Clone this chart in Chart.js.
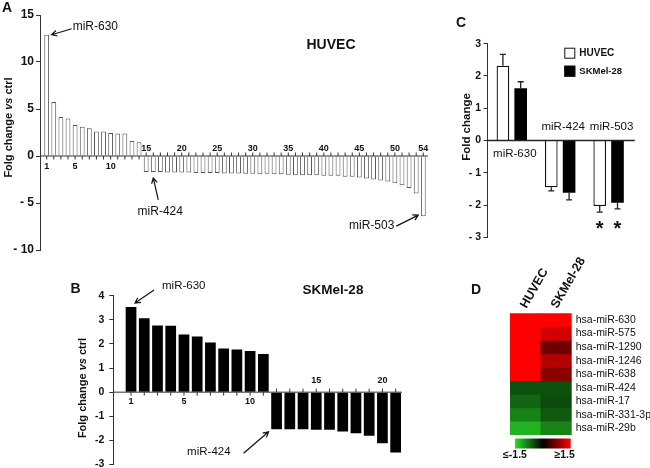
<!DOCTYPE html>
<html>
<head>
<meta charset="utf-8">
<script src="https://cdn.jsdelivr.net/npm/chart.js@4.4.1/dist/chart.umd.min.js"></script>
<style>
  html, body { margin: 0; padding: 0; background: #fff; overflow: hidden; width: 650px; height: 468px; }
  canvas { position: absolute; left: 0; top: 0; }
</style>
</head>
<body>
<canvas id="chartA" width="650" height="480"></canvas>
<canvas id="chartB" width="650" height="480"></canvas>
<canvas id="chartC" width="650" height="480"></canvas>
<canvas id="chartD" width="650" height="480"></canvas>
<script>
const FONT = '"Liberation Sans", Arial, sans-serif';

// A - HUVEC, fold change of 54 miRNAs
const huvecBars = Array.from({length: 54}, (_, i) => i + 1);
const huvecFold = [12.9, 5.75, 4.15, 4.0, 3.3, 3.1, 2.95, 2.6, 2.6, 2.45, 2.4, 2.4, 1.6, 1.45,
  -1.7, -1.7, -1.7, -1.75, -1.75, -1.75, -1.75, -1.8, -1.8, -1.8, -1.8, -1.85, -1.85, -1.85, -1.9, -1.9,
  -1.95, -1.9, -1.95, -1.95, -2.0, -2.05, -2.05, -2.05, -2.05, -2.1, -2.1, -2.1, -2.2, -2.2,
  -2.3, -2.4, -2.5, -2.6, -2.7, -2.9, -3.1, -3.4, -4.0, -6.4];
const huvecTicks = [1, 5, 10, 15, 20, 25, 30, 35, 40, 45, 50, 54];

// B - SKMel-28, 21 miRNAs
const skmelBars = Array.from({length: 21}, (_, i) => i + 1);
const skmelFold = [3.53, 3.07, 2.76, 2.75, 2.39, 2.31, 2.06, 1.81, 1.77, 1.71, 1.58,
  -1.54, -1.54, -1.54, -1.56, -1.56, -1.63, -1.7, -1.81, -2.12, -2.5];
const skmelTicks = [1, 5, 10, 15, 20];

// C - validation
const cGroups = ['miR-630', 'miR-424', 'miR-503'];
const cHuvec = [2.32, -1.45, -2.03];
const cHuvecErr = [0.35, 0.11, 0.19];
const cSkmel = [1.62, -1.62, -1.93];
const cSkmelErr = [0.2, 0.22, 0.19];
const cSignif = [false, false, true];

// D - heatmap
const heatCols = ['HUVEC', 'SKMel-28'];
const heatGenes = ['hsa-miR-630', 'hsa-miR-575', 'hsa-miR-1290', 'hsa-miR-1246', 'hsa-miR-638',
  'hsa-miR-424', 'hsa-miR-17', 'hsa-miR-331-3p', 'hsa-miR-29b'];
const heatHuvec = [1.5, 1.5, 1.5, 1.5, 1.5, -0.53, -0.67, -0.87, -1.2];
const heatSkmel = [1.5, 1.24, 0.65, 1.06, 0.82, -0.53, -0.5, -0.6, -0.87];

Chart.defaults.font.family = FONT;
Chart.defaults.color = '#111';
Chart.defaults.animation = false;
Chart.defaults.responsive = false;
Chart.defaults.events = [];
Chart.defaults.plugins.legend.display = false;
Chart.defaults.plugins.tooltip.enabled = false;

function font(size, weight, style) {
  return (style || '') + ' ' + (weight || 'normal') + ' ' + size + 'px ' + FONT;
}
function text(ctx, s, x, y, f, align, base) {
  ctx.font = f;
  ctx.textAlign = align || 'center';
  ctx.textBaseline = base || 'middle';
  ctx.fillText(s, x, y);
}
function arrow(ctx, x1, y1, x2, y2) {
  const a = Math.atan2(y2 - y1, x2 - x1), h = 6;
  ctx.beginPath();
  ctx.moveTo(x1, y1); ctx.lineTo(x2, y2);
  ctx.moveTo(x2 - h * Math.cos(a - 0.5), y2 - h * Math.sin(a - 0.5));
  ctx.lineTo(x2, y2);
  ctx.lineTo(x2 - h * Math.cos(a + 0.5), y2 - h * Math.sin(a + 0.5));
  ctx.stroke();
}
function yTitle(ctx, cx, cy, parts) {
  ctx.save();
  ctx.translate(cx, cy);
  ctx.rotate(-Math.PI / 2);
  let w = 0;
  parts.forEach(p => { ctx.font = p[1]; w += ctx.measureText(p[0]).width; });
  let x = -w / 2;
  ctx.textAlign = 'left'; ctx.textBaseline = 'middle';
  parts.forEach(p => { ctx.font = p[1]; ctx.fillText(p[0], x, 0); x += ctx.measureText(p[0]).width; });
  ctx.restore();
}
const folgTitle = size => [['Folg change ', font(size, 'bold')], ['vs', font(size, 'bold', 'italic')], [' ctrl', font(size, 'bold')]];
const dashMinus = v => v < 0 ? '- ' + (-v) : String(v);

// zero line with ticks and the index labels (below for up bars, above for down bars)
const zeroAxis = {
  id: 'zeroAxis',
  afterDatasetsDraw(chart, args, opts) {
    const {ctx, chartArea, scales: {x, y}} = chart;
    const y0 = y.getPixelForValue(0);
    const vals = chart.data.datasets[0].data;
    ctx.save();
    ctx.strokeStyle = '#333';
    ctx.lineWidth = 1;
    ctx.beginPath();
    ctx.moveTo(chartArea.left, y0);
    ctx.lineTo(chartArea.right, y0);
    chart.data.labels.forEach((n, i) => {
      const px = x.getPixelForValue(n);
      ctx.moveTo(px, y0);
      ctx.lineTo(px, y0 + (vals[i] >= 0 ? opts.tick : -opts.tick));
    });
    ctx.stroke();
    ctx.fillStyle = '#111';
    opts.labels.forEach(n => {
      const dy = vals[n - 1] >= 0 ? opts.below : -opts.above;
      text(ctx, String(n), x.getPixelForValue(n), y0 + dy, opts.font);
    });
    ctx.restore();
  }
};

const notesA = {
  id: 'notesA',
  afterDraw(chart) {
    const {ctx, scales: {x, y}} = chart;
    ctx.save();
    ctx.fillStyle = '#111'; ctx.strokeStyle = '#111'; ctx.lineWidth = 1.2;
    text(ctx, 'A', 7, 8, font(14, 'bold'));
    text(ctx, 'HUVEC', 331, 45, font(14, 'bold'));
    yTitle(ctx, 9, 127.5, folgTitle(11));
    let tx = x.getPixelForValue(1) + 5, ty = y.getPixelForValue(huvecFold[0]);
    arrow(ctx, tx + 20, ty - 6, tx, ty);
    text(ctx, 'miR-630', tx + 21, ty - 8, font(12), 'left');
    tx = x.getPixelForValue(16); ty = y.getPixelForValue(huvecFold[15]) + 6;
    arrow(ctx, tx + 5, ty + 22, tx, ty);
    text(ctx, 'miR-424', tx + 7, ty + 34, font(12));
    tx = x.getPixelForValue(54) - 5; ty = y.getPixelForValue(huvecFold[53]) - 1;
    arrow(ctx, tx - 22, ty + 11, tx, ty);
    text(ctx, 'miR-503', tx - 24, ty + 11, font(12), 'right');
    ctx.restore();
  }
};

const notesB = {
  id: 'notesB',
  afterDraw(chart) {
    const {ctx, scales: {x, y}} = chart;
    ctx.save();
    ctx.fillStyle = '#111'; ctx.strokeStyle = '#111'; ctx.lineWidth = 1.2;
    text(ctx, 'B', 75.5, 289, font(14, 'bold'));
    text(ctx, 'SKMel-28', 333, 290, font(13.5, 'bold'));
    yTitle(ctx, 82.5, 388, folgTitle(11));
    let tx = x.getPixelForValue(1) + 4, ty = y.getPixelForValue(skmelFold[0]) - 4;
    arrow(ctx, tx + 19, ty - 13, tx, ty);
    text(ctx, 'miR-630', tx + 27, ty - 17, font(11.5), 'left');
    tx = x.getPixelForValue(12) - 8; ty = y.getPixelForValue(skmelFold[11]) + 2.5;
    arrow(ctx, tx - 25, ty + 21.5, tx, ty);
    text(ctx, 'miR-424', tx - 38, ty + 20, font(11.5), 'right');
    ctx.restore();
  }
};

const notesC = {
  id: 'notesC',
  afterDatasetsDraw(chart) {
    const {ctx, chartArea, scales: {x, y}} = chart;
    const y0 = y.getPixelForValue(0);
    const errs = [cHuvecErr, cSkmelErr];
    ctx.save();
    ctx.strokeStyle = '#222'; ctx.fillStyle = '#111'; ctx.lineWidth = 1.3;
    // x axis
    ctx.beginPath();
    ctx.moveTo(chartArea.left, y0); ctx.lineTo(chartArea.right + 2, y0);
    ctx.stroke();
    // error bars
    const lows = [];
    chart.data.datasets.forEach((ds, d) => {
      chart.getDatasetMeta(d).data.forEach((bar, i) => {
        const v = ds.data[i], s = v >= 0 ? 1 : -1;
        const ey = y.getPixelForValue(v + s * errs[d][i]);
        ctx.beginPath();
        ctx.moveTo(bar.x, bar.y); ctx.lineTo(bar.x, ey);
        ctx.moveTo(bar.x - 3, ey); ctx.lineTo(bar.x + 3, ey);
        ctx.stroke();
        lows[i] = Math.max(lows[i] || 0, ey);
      });
    });
    // stars
    chart.getDatasetMeta(0).data.forEach((bar, i) => {
      if (!cSignif[i]) return;
      chart.data.datasets.forEach((ds, d) => {
        const b = chart.getDatasetMeta(d).data[i];
        ctx.font = font(20, 'bold');
        const m = ctx.measureText('*');
        ctx.textAlign = 'center'; ctx.textBaseline = 'alphabetic';
        ctx.fillText('*', b.x, lows[i] + 13 + (m.actualBoundingBoxAscent - m.actualBoundingBoxDescent) / 2);
      });
    });
    // group names
    cGroups.forEach((g, i) => {
      const gx = x.getPixelForValue(i) + 3;
      const up = cHuvec[i] >= 0;
      text(ctx, g, gx, up ? y0 + 13 : y0 - 14, font(11.5));
    });
    // legend
    const lx = chartArea.right - 68.5, ly = chartArea.top + 4;
    chart.data.datasets.forEach((ds, d) => {
      ctx.fillStyle = ds.backgroundColor;
      ctx.fillRect(lx, ly + d * 18, 11, 11);
      ctx.strokeStyle = '#111'; ctx.lineWidth = 1;
      ctx.strokeRect(lx + 0.5, ly + d * 18 + 0.5, 10, 10);
      ctx.fillStyle = '#111';
      text(ctx, ds.label, lx + 15, ly + d * 18 + 5.5, font(d ? 9.5 : 10, 'bold'), 'left');
    });
    text(ctx, 'C', 461, 23, font(14, 'bold'));
    yTitle(ctx, 467, 127, [['Fold change', font(11.5, 'bold')]]);
    ctx.restore();
  }
};

function heatColor(v) {
  const t = Math.min(Math.abs(v) / 1.5, 1);
  if (v >= 0) return 'rgb(' + Math.round(255 * t) + ',0,0)';
  return 'rgb(' + Math.round(40 * t) + ',' + Math.round(225 * t) + ',' + Math.round(40 * t) + ')';
}

const notesD = {
  id: 'notesD',
  afterDraw(chart) {
    const {ctx, chartArea, scales: {x, y}} = chart;
    ctx.save();
    ctx.fillStyle = '#111';
    text(ctx, 'D', 476, 290, font(14, 'bold'));
    heatCols.forEach((c, i) => {
      ctx.save();
      ctx.translate(x.getPixelForValue(i) - 2, chartArea.top - 6);
      ctx.rotate(-Math.PI / 3);
      text(ctx, c, 0, 0, font(12.5, 'bold'), 'left');
      ctx.restore();
    });
    heatGenes.forEach((g, r) => {
      text(ctx, g, chartArea.right + 4, y.getPixelForValue(r + 0.5), font(10.5), 'left');
    });
    const bx0 = chartArea.left + 5, bx1 = chartArea.right - 1, by = chartArea.bottom + 3.5;
    const grad = ctx.createLinearGradient(bx0, 0, bx1, 0);
    grad.addColorStop(0, heatColor(-1.5));
    grad.addColorStop(0.5, heatColor(0));
    grad.addColorStop(1, heatColor(1.5));
    ctx.fillStyle = grad;
    ctx.fillRect(bx0, by, bx1 - bx0, 10);
    ctx.fillStyle = '#111';
    text(ctx, '\u2264-1.5', bx0, by + 17, font(10.5, 'bold'));
    text(ctx, '\u22651.5', bx1 - 6, by + 17, font(10.5, 'bold'));
    ctx.restore();
  }
};

const yAxis = (min, max, step, width, fontSize, pad, cb) => ({
  type: 'linear', min, max,
  afterFit(s) { s.width = width; },
  border: {display: true, color: '#333', width: 1},
  grid: {drawOnChartArea: false, drawTicks: true, tickLength: 4, color: '#333'},
  ticks: {stepSize: step, padding: pad, color: '#111', font: {size: fontSize, weight: 'bold'}, callback: cb}
});

new Chart(document.getElementById('chartA'), {
  type: 'bar',
  data: {
    labels: huvecBars,
    datasets: [{data: huvecFold, backgroundColor: '#fff', borderColor: '#555', borderWidth: 1,
      barPercentage: 0.68, categoryPercentage: 1}]
  },
  options: {
    devicePixelRatio: 1,
    layout: {padding: {left: 0, right: 222, top: 15, bottom: 230}},
    scales: {
      x: {type: 'linear', display: false, offset: false, min: 0.06, max: 54.66},
      y: yAxis(-10, 15, 5, 40, 12, 2, dashMinus)
    },
    plugins: {zeroAxis: {tick: 3.5, below: 10.5, above: 7.5, labels: huvecTicks, font: font(9, 'bold')}}
  },
  plugins: [zeroAxis, notesA]
});

new Chart(document.getElementById('chartB'), {
  type: 'bar',
  data: {
    labels: skmelBars,
    datasets: [{data: skmelFold, backgroundColor: '#000', borderColor: '#000', borderWidth: 0,
      barPercentage: 0.81, categoryPercentage: 1}]
  },
  options: {
    devicePixelRatio: 1,
    layout: {padding: {left: 73.3, right: 248, top: 295.7, bottom: 15.5}},
    scales: {
      x: {type: 'linear', display: false, offset: false, min: -0.34, max: 21.48},
      y: yAxis(-3, 4, 1, 40, 10.5, 5, v => String(v))
    },
    plugins: {zeroAxis: {tick: 3.5, below: 9.5, above: 12, labels: skmelTicks, font: font(9, 'bold')}}
  },
  plugins: [zeroAxis, notesB]
});

new Chart(document.getElementById('chartC'), {
  type: 'bar',
  data: {
    labels: cGroups,
    datasets: [
      {label: 'HUVEC', data: cHuvec, backgroundColor: '#fff', borderColor: '#111', borderWidth: 1.3},
      {label: 'SKMel-28', data: cSkmel, backgroundColor: '#000', borderColor: '#000', borderWidth: 0}
    ]
  },
  options: {
    devicePixelRatio: 1,
    datasets: {bar: {categoryPercentage: 0.735, barPercentage: 0.71}},
    layout: {padding: {left: 447.6, right: 17.2, top: 43.7, bottom: 242.7}},
    scales: {
      x: {display: false},
      y: yAxis(-3, 3, 1, 40, 10.5, 2.5, dashMinus)
    }
  },
  plugins: [notesC]
});

new Chart(document.getElementById('chartD'), {
  type: 'bar',
  data: {
    labels: heatCols,
    datasets: heatGenes.map((g, r) => ({
      label: g,
      data: heatCols.map(() => 1),
      backgroundColor: [heatColor(heatHuvec[r]), heatColor(heatSkmel[r])],
      borderWidth: 0
    }))
  },
  options: {
    devicePixelRatio: 1,
    datasets: {bar: {categoryPercentage: 1, barPercentage: 1}},
    layout: {padding: {left: 510, right: 78.3, top: 313.3, bottom: 45}},
    scales: {
      x: {display: false, stacked: true},
      y: {display: false, stacked: true, min: 0, max: heatGenes.length, reverse: true}
    }
  },
  plugins: [notesD]
});
</script>
</body>
</html>
